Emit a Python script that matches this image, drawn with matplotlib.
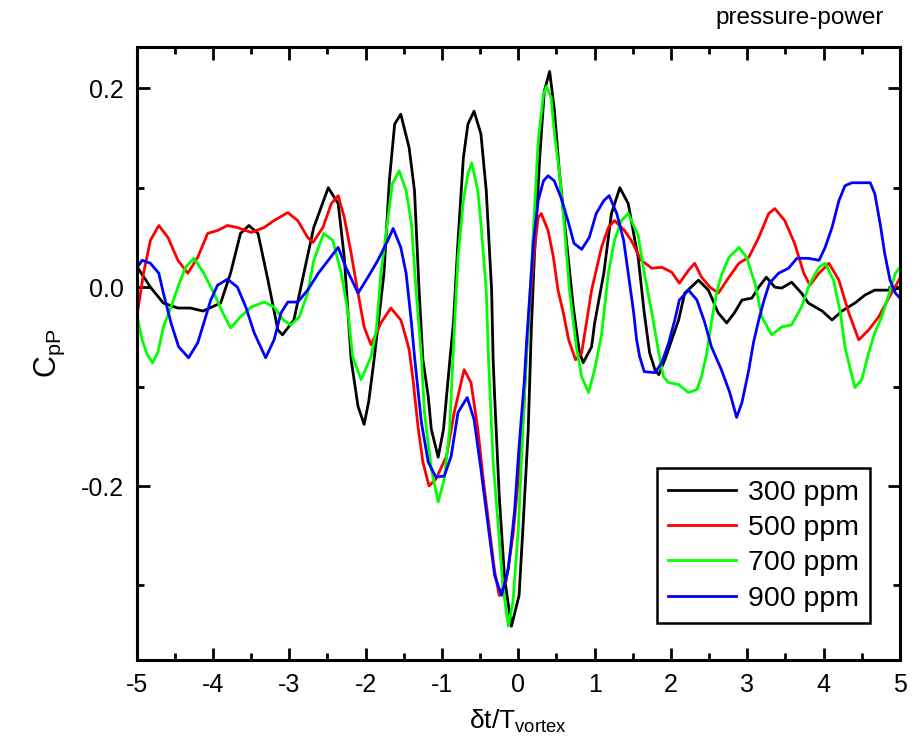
import matplotlib
matplotlib.use("Agg")
import matplotlib.pyplot as plt
from matplotlib.ticker import MultipleLocator

plt.rcParams['font.family'] = ['Liberation Sans', 'DejaVu Sans']
plt.rcParams['mathtext.fontset'] = 'custom'
plt.rcParams['mathtext.rm'] = 'Liberation Sans'
plt.rcParams['axes.unicode_minus'] = False

# values: (dt/T_vortex, C_pP)
x_300 = [-4.99, -4.82, -4.65, -4.46, -4.30, -4.13, -3.90, -3.77, -3.64, -3.53, -3.41, -3.28, -3.15, -3.09,
         -2.94, -2.81, -2.68, -2.49, -2.36, -2.28, -2.19, -2.10, -2.02, -1.96, -1.89, -1.76, -1.69, -1.62,
         -1.54, -1.43, -1.36, -1.30, -1.25, -1.18, -1.14, -1.05, -0.98, -0.90, -0.85, -0.79, -0.72, -0.66,
         -0.58, -0.49, -0.42, -0.35, -0.33, -0.31, -0.25, -0.18, -0.09, 0.01, 0.06, 0.13, 0.17, 0.21, 0.28,
         0.34, 0.41, 0.47, 0.54, 0.63, 0.72, 0.80, 0.85, 0.96, 1.00, 1.12, 1.22, 1.33, 1.44, 1.52, 1.57,
         1.65, 1.72, 1.79, 1.84, 1.92, 2.01, 2.10, 2.18, 2.36, 2.49, 2.62, 2.73, 2.83, 2.93, 3.06, 3.15,
         3.25, 3.36, 3.45, 3.58, 3.71, 3.80, 3.98, 4.11, 4.24, 4.41, 4.54, 4.67, 4.86, 5.00]
y_300 = [0.020, 0.000, -0.016, -0.021, -0.021, -0.024, -0.016, 0.014, 0.054, 0.062, 0.054, 0.007, -0.043, -0.048,
         -0.033, 0.014, 0.060, 0.100, 0.084, 0.030, -0.073, -0.120, -0.138, -0.115, -0.073, 0.014, 0.107, 0.164,
         0.174, 0.140, 0.097, -0.003, -0.073, -0.110, -0.143, -0.171, -0.143, -0.076, -0.036, 0.047, 0.130, 0.164,
         0.177, 0.154, 0.097, -0.003, -0.073, -0.110, -0.210, -0.293, -0.341, -0.310, -0.243, -0.143, -0.043, 0.030, 0.130,
         0.197, 0.217, 0.180, 0.114, 0.047, -0.020, -0.065, -0.076, -0.060, -0.036, 0.014, 0.074, 0.100, 0.084, 0.050, 0.030,
         -0.026, -0.066, -0.083, -0.088, -0.073, -0.053, -0.033, -0.006, 0.007, -0.003, -0.026, -0.036, -0.026, -0.013, -0.011, 0.000,
         0.010, 0.000, -0.001, 0.005, -0.006, -0.016, -0.024, -0.033, -0.024, -0.016, -0.008, -0.003, -0.003, -0.001]

x_500 = [-4.99, -4.91, -4.82, -4.71, -4.59, -4.46, -4.33, -4.20, -4.07, -3.94, -3.81, -3.68, -3.50, -3.33,
         -3.20, -3.02, -2.89, -2.76, -2.69, -2.56, -2.45, -2.36, -2.28, -2.19, -2.10, -2.02, -1.93, -1.80,
         -1.67, -1.54, -1.50, -1.43, -1.38, -1.31, -1.25, -1.17, -1.08, -0.94, -0.84, -0.71, -0.62, -0.53,
         -0.46, -0.39, -0.31, -0.25, -0.16, -0.07, 0.00, 0.07, 0.11, 0.20, 0.26, 0.30, 0.39, 0.46, 0.52,
         0.59, 0.66, 0.75, 0.83, 0.96, 1.09, 1.18, 1.26, 1.39, 1.48, 1.61, 1.75, 1.88, 2.01, 2.11, 2.23,
         2.31, 2.40, 2.51, 2.62, 2.76, 2.89, 3.02, 3.15, 3.28, 3.36, 3.49, 3.62, 3.74, 3.82, 3.94, 4.07,
         4.20, 4.33, 4.46, 4.59, 4.72, 4.86, 5.00]
y_500 = [-0.026, 0.014, 0.047, 0.062, 0.050, 0.027, 0.014, 0.030, 0.054, 0.057, 0.062, 0.060, 0.055, 0.060,
         0.067, 0.075, 0.067, 0.050, 0.045, 0.060, 0.084, 0.092, 0.070, 0.034, -0.006, -0.040, -0.058, -0.036,
         -0.021, -0.033, -0.043, -0.063, -0.093, -0.143, -0.176, -0.200, -0.193, -0.170, -0.126, -0.083, -0.096, -0.143,
         -0.193, -0.236, -0.286, -0.310, -0.296, -0.250, -0.193, -0.126, -0.060, 0.030, 0.070, 0.074, 0.057, 0.030, -0.003,
         -0.026, -0.053, -0.073, -0.066, -0.003, 0.040, 0.060, 0.067, 0.057, 0.047, 0.027, 0.019, 0.020, 0.015, 0.004, 0.017,
         0.024, 0.010, 0.000, -0.006, 0.010, 0.024, 0.030, 0.050, 0.074, 0.079, 0.067, 0.044, 0.014, 0.002, 0.014, 0.024,
         0.007, -0.026, -0.053, -0.043, -0.030, -0.010, 0.009]

x_700 = [-4.99, -4.93, -4.86, -4.79, -4.72, -4.65, -4.55, -4.46, -4.36, -4.25, -4.12, -3.99, -3.87, -3.77,
         -3.64, -3.50, -3.33, -3.20, -3.08, -2.98, -2.87, -2.76, -2.68, -2.55, -2.43, -2.32, -2.23, -2.17,
         -2.06, -1.93, -1.86, -1.80, -1.70, -1.65, -1.56, -1.47, -1.40, -1.34, -1.27, -1.23, -1.14, -1.05,
         -0.97, -0.90, -0.85, -0.79, -0.72, -0.66, -0.61, -0.53, -0.49, -0.42, -0.39, -0.33, -0.26, -0.20,
         -0.13, -0.07, 0.00, 0.04, 0.09, 0.13, 0.20, 0.26, 0.33, 0.37, 0.43, 0.47, 0.54, 0.60, 0.67, 0.76,
         0.83, 0.92, 1.00, 1.09, 1.18, 1.26, 1.35, 1.44, 1.57, 1.65, 1.75, 1.84, 1.90, 1.97, 2.10, 2.23,
         2.34, 2.40, 2.47, 2.53, 2.60, 2.66, 2.76, 2.89, 2.99, 3.10, 3.19, 3.32, 3.45, 3.58, 3.71, 3.82,
         3.94, 4.02, 4.13, 4.22, 4.28, 4.35, 4.41, 4.50, 4.59, 4.67, 4.76, 4.86, 4.94, 5.00]
y_700 = [-0.030, -0.053, -0.068, -0.076, -0.065, -0.040, -0.020, 0.000, 0.020, 0.029, 0.014, -0.006, -0.026, -0.041,
         -0.030, -0.020, -0.015, -0.020, -0.033, -0.038, -0.030, -0.006, 0.027, 0.054, 0.047, 0.014, -0.026, -0.070,
         -0.093, -0.070, -0.043, 0.014, 0.074, 0.104, 0.117, 0.097, 0.064, -0.003, -0.070, -0.126, -0.183, -0.216,
         -0.193, -0.143, -0.060, 0.030, 0.087, 0.114, 0.125, 0.097, 0.064, -0.003, -0.073, -0.176, -0.243, -0.303,
         -0.341, -0.316, -0.243, -0.176, -0.093, -0.040, 0.060, 0.147, 0.194, 0.202, 0.190, 0.157, 0.114, 0.064, -0.003, -0.060,
         -0.090, -0.106, -0.083, -0.048, 0.014, 0.047, 0.067, 0.074, 0.052, 0.014, -0.026, -0.066, -0.090, -0.096, -0.098, -0.106,
         -0.103, -0.090, -0.066, -0.035, -0.005, 0.012, 0.030, 0.040, 0.030, 0.004, -0.030, -0.048, -0.040, -0.038, -0.020, 0.004,
         0.020, 0.024, 0.007, -0.026, -0.060, -0.083, -0.101, -0.093, -0.066, -0.046, -0.030, -0.006, 0.014, 0.020]

x_900 = [-4.99, -4.93, -4.82, -4.71, -4.65, -4.55, -4.45, -4.32, -4.20, -4.12, -4.03, -3.94, -3.81, -3.68,
         -3.57, -3.46, -3.31, -3.20, -3.11, -3.02, -2.89, -2.76, -2.62, -2.49, -2.36, -2.26, -2.10, -1.97,
         -1.84, -1.71, -1.64, -1.54, -1.47, -1.40, -1.36, -1.27, -1.18, -1.08, -0.97, -0.88, -0.79, -0.67,
         -0.58, -0.49, -0.39, -0.31, -0.22, -0.13, -0.05, 0.01, 0.08, 0.11, 0.20, 0.26, 0.33, 0.39, 0.47,
         0.56, 0.66, 0.73, 0.83, 0.93, 1.02, 1.12, 1.19, 1.29, 1.38, 1.44, 1.51, 1.55, 1.59, 1.65, 1.79,
         1.88, 1.97, 2.05, 2.11, 2.23, 2.34, 2.44, 2.53, 2.66, 2.77, 2.86, 2.93, 3.02, 3.08, 3.15, 3.22,
         3.29, 3.41, 3.54, 3.65, 3.80, 3.94, 4.02, 4.11, 4.20, 4.28, 4.37, 4.61, 4.67, 4.74, 4.80, 4.87,
         4.94, 5.00]
y_900 = [0.020, 0.027, 0.024, 0.014, -0.006, -0.036, -0.060, -0.071, -0.056, -0.036, -0.013, 0.002, 0.008, 0.000,
         -0.020, -0.046, -0.071, -0.053, -0.026, -0.015, -0.015, -0.003, 0.014, 0.027, 0.040, 0.020, -0.006, 0.010,
         0.027, 0.047, 0.059, 0.040, 0.014, -0.036, -0.070, -0.136, -0.176, -0.191, -0.190, -0.170, -0.126, -0.111,
         -0.133, -0.183, -0.243, -0.290, -0.310, -0.283, -0.226, -0.160, -0.093, -0.053, 0.047, 0.087, 0.107, 0.112, 0.107,
         0.090, 0.064, 0.044, 0.038, 0.050, 0.074, 0.087, 0.092, 0.074, 0.047, 0.014, -0.025, -0.053, -0.070, -0.085, -0.086,
         -0.076, -0.056, -0.033, -0.013, -0.003, -0.013, -0.035, -0.060, -0.083, -0.106, -0.131, -0.116, -0.083, -0.056, -0.033, -0.013,
         0.004, 0.014, 0.019, 0.029, 0.029, 0.027, 0.040, 0.060, 0.087, 0.102, 0.105, 0.105, 0.094, 0.064, 0.034, 0.007,
         -0.006, -0.011]

labels = ['300 ppm', '500 ppm', '700 ppm', '900 ppm']
colors = ['#000000', '#ff0000', '#00ff00', '#0000ff']

fig = plt.figure(figsize=(9.16, 7.5), dpi=100)
ax = fig.add_axes([0.1492, 0.12, 0.8333, 0.8173])

for xs, ys, lab, c in zip([x_300, x_500, x_700, x_900], [y_300, y_500, y_700, y_900], labels, colors):
    ax.plot(xs, ys, color=c, lw=2.0, label=lab)

ax.set_xlim(-5, 5)
ax.set_ylim(-0.375, 0.2415)
ax.xaxis.set_major_locator(MultipleLocator(1))
ax.xaxis.set_minor_locator(MultipleLocator(0.5))
ax.yaxis.set_major_locator(MultipleLocator(0.2))
ax.yaxis.set_minor_locator(MultipleLocator(0.1))
ax.yaxis.set_major_formatter(lambda v, p: '0.0' if abs(v) < 1e-9 else f'{v:.1f}')

ax.tick_params(which='both', direction='in', top=True, right=True, width=2, labelsize=18)
ax.tick_params(which='major', length=9, pad=9)
ax.tick_params(which='minor', length=5)
for s in ax.spines.values():
    s.set_linewidth(2.2)

ax.set_xlabel(r'$\mathregular{\delta t/T_{vortex}}$', fontsize=19, labelpad=8)
ax.set_ylabel(r'$\mathregular{C_{pP}}$', fontsize=22, labelpad=10)

fig.text(884 / 916, 1 - 18 / 750, 'pressure-power', ha='right', va='center', fontsize=17.5)

leg = ax.legend(loc='lower right', bbox_to_anchor=(0.961, 0.06), fontsize=20.5, frameon=True,
                fancybox=False, handlelength=2.4, handletextpad=0.4, labelspacing=0.33,
                borderpad=0.4, borderaxespad=0)
leg.get_frame().set_edgecolor('black')
leg.get_frame().set_linewidth(1.8)
leg.get_frame().set_alpha(1)

fig.savefig('out.png', dpi=100)
